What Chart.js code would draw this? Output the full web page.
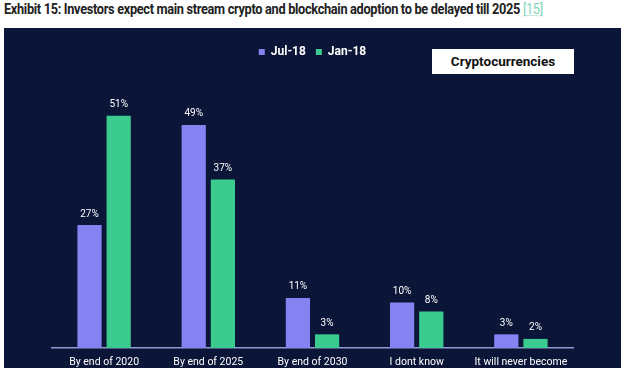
<!DOCTYPE html>
<html><head><meta charset="utf-8">
<script src="https://cdn.jsdelivr.net/npm/chart.js@4.4.1/dist/chart.umd.min.js"></script>
<style>
html,body{margin:0;padding:0;background:#fff;width:625px;height:368px;overflow:hidden;position:relative;font-family:Roboto,"Liberation Sans",sans-serif;}
#title{position:absolute;left:4px;top:1px;font-weight:700;font-size:14px;color:#222;letter-spacing:-0.35px;white-space:nowrap;transform:scale(0.912,1);transform-origin:0 0;}
#title span{color:#7fd6b8;text-decoration:underline;text-decoration-color:#bfe9da;font-weight:400;}
#panel{position:absolute;left:4px;top:28px;width:617px;height:340px;background:#0b1537;}
#wrap{position:absolute;left:4px;top:28px;width:617px;height:360px;}
#box{position:absolute;left:432px;top:49px;width:142px;height:25px;background:#fff;color:#111;font-weight:700;font-size:13.5px;line-height:25px;text-align:center;}
</style></head>
<body>
<div id="title">Exhibit 15: Investors expect main stream crypto and blockchain adoption to be delayed till 2025 <span>[15]</span></div>
<div id="panel"></div>
<div id="wrap"><canvas id="c"></canvas></div>
<div id="box">Cryptocurrencies</div>
<script>
const categories = ["By end of 2020","By end of 2025","By end of 2030","I dont know",["It will never become","mainstream"]];
const seriesNames = ["Jul-18","Jan-18"];
const jul18 = [27,49,11,10,3];
const jan18 = [51,37,3,8,2];

const labelPlugin = {
  id:'vals',
  afterDatasetsDraw(chart){
    const ctx = chart.ctx;
    ctx.save();
    ctx.fillStyle = '#ffffff';
    ctx.font = '10px Roboto, sans-serif';
    ctx.textAlign = 'center';
    ctx.textBaseline = 'bottom';
    chart.data.datasets.forEach((ds,i)=>{
      chart.getDatasetMeta(i).data.forEach((el,j)=>{
        ctx.fillText(ds.data[j] + '%', el.x, el.y - 6);
      });
    });
    ctx.restore();
  }
};

new Chart(document.getElementById('c'), {
  type:'bar',
  data:{
    labels: categories,
    datasets:[
      {label: seriesNames[0], data: jul18, backgroundColor:'#8583f2', categoryPercentage:0.56, barPercentage:0.83},
      {label: seriesNames[1], data: jan18, backgroundColor:'#3ccb8f', categoryPercentage:0.56, barPercentage:0.83}
    ]
  },
  options:{
    responsive:true, maintainAspectRatio:false, animation:false,
    layout:{padding:{left:48,right:48,top:8,bottom:0}},
    plugins:{
      legend:{
        display:true, position:'top',
        labels:{color:'#ffffff', boxWidth:6, boxHeight:6, padding:10, font:{family:'Roboto', size:12, weight:'bold'}}
      },
      tooltip:{enabled:false}
    },
    scales:{
      x:{
        grid:{display:false},
        border:{color:'#8d9bd0', width:1.5},
        ticks:{color:'#ffffff', font:{family:'Roboto', size:10.5}, padding:0, maxRotation:0, autoSkip:false},
        afterFit(s){ s.height = 40; }
      },
      y:{ display:false, min:0, max:61.5 }
    }
  },
  plugins:[labelPlugin]
});
</script>
</body></html>
